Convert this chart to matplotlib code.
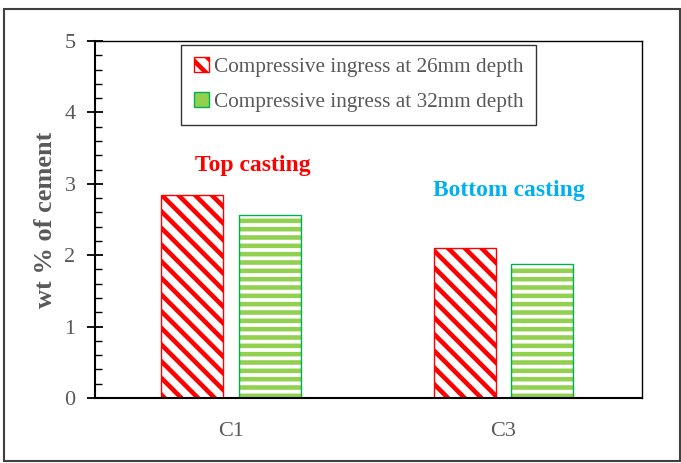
import matplotlib.pyplot as plt
import numpy as np
from matplotlib.patches import Rectangle, Patch
from matplotlib.ticker import MultipleLocator

plt.rcParams['font.family'] = ['Liberation Serif', 'DejaVu Serif']
plt.rcParams['hatch.linewidth'] = 3.3

categories = ['C1', 'C3']
depth_26 = [2.84, 2.10]
depth_32 = [2.57, 1.88]
series_labels = ['Compressive ingress at 26mm depth', 'Compressive ingress at 32mm depth']
notes = ['Top casting', 'Bottom casting']

grey = '#595959'
red = '#FF0000'
green_fill = '#92D050'
green_edge = '#00B050'

fig = plt.figure(figsize=(6.81, 4.63), dpi=100)
ax = fig.add_axes([0.1395, 0.1404, 0.8032, 0.771])

x = np.arange(len(categories))
w = 0.228
off = 0.142

ax.bar(x - off, depth_26, w, facecolor='white', edgecolor=red, hatch='\\\\', linewidth=1.0)
ax.bar(x + off, depth_32, w, facecolor='white', edgecolor=green_fill, hatch='--', linewidth=0)
ax.bar(x + off, depth_32, w, facecolor='none', edgecolor=green_edge, linewidth=1.0)

ax.set_xlim(-0.5, 1.51)
ax.set_ylim(0, 5)
ax.set_xticks(x)
ax.set_xticklabels(categories)
ax.yaxis.set_major_locator(MultipleLocator(1))
ax.yaxis.set_minor_locator(MultipleLocator(0.2))
ax.tick_params(axis='y', which='major', direction='inout', length=12, width=1.3,
               labelsize=16, labelcolor=grey, pad=8)
ax.tick_params(axis='y', which='minor', direction='in', length=5, width=1.0)
ax.tick_params(axis='x', length=0, labelsize=16, labelcolor=grey, pad=17)
ax.spines['left'].set_linewidth(1.5)
ax.spines['bottom'].set_linewidth(1.5)
ax.spines['top'].set_linewidth(1.0)
ax.spines['right'].set_linewidth(1.0)

ax.set_ylabel('wt % of cement', fontsize=19, fontweight='bold', color=grey, labelpad=5)

ax.text(0.08, 3.26, notes[0], color=red, fontsize=17, fontweight='bold', ha='center', va='center')
ax.text(1.02, 2.9, notes[1], color='#00B0F0', fontsize=17, fontweight='bold', ha='center', va='center')

handles = [Patch(facecolor='white', edgecolor=red, hatch='\\\\', linewidth=1.0),
           Patch(facecolor=green_fill, edgecolor=green_edge, linewidth=1.0)]
leg = ax.legend(handles, series_labels, loc='upper center', bbox_to_anchor=(0.482, 0.99),
                fontsize=15.3, frameon=True, fancybox=False, edgecolor='black',
                handlelength=0.7, handleheight=0.7, handletextpad=0.25,
                borderpad=0.6, labelspacing=0.7, borderaxespad=0)
leg.get_frame().set_linewidth(1.0)
for t in leg.get_texts():
    t.set_color(grey)

fig.patches.append(Rectangle((4 / 681, 2 / 463), 676 / 681, 452 / 463, transform=fig.transFigure,
                             fill=False, edgecolor='#404040', linewidth=1.5))

fig.savefig('out.png', dpi=100)
